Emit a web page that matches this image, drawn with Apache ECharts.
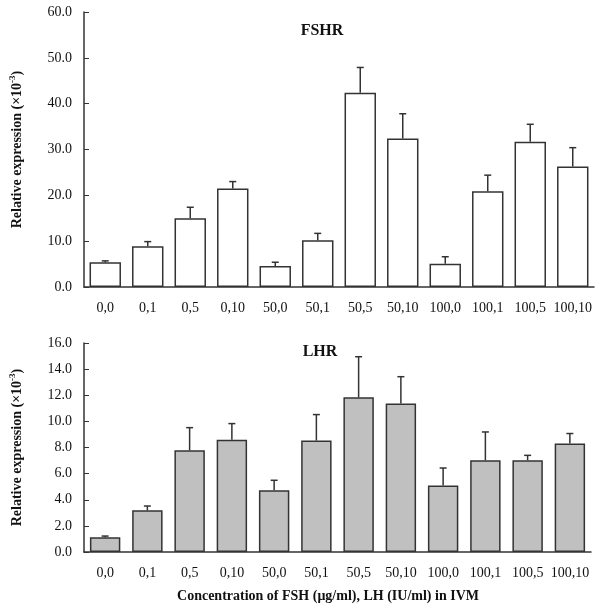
<!DOCTYPE html>
<html>
<head>
<meta charset="utf-8">
<script src="https://cdn.jsdelivr.net/npm/echarts@6/dist/echarts.min.js"></script>
<style>
  html, body { margin: 0; padding: 0; background: #fff; }
  #chart { width: 600px; height: 613px; }
</style>
</head>
<body>
<div id="chart"></div>
<script>
// 数据：FSH/LH 浓度组合
const categories = ['0,0', '0,1', '0,5', '0,10', '50,0', '50,1', '50,5', '50,10', '100,0', '100,1', '100,5', '100,10'];
const fshrMean = [5.4, 8.9, 15.0, 21.5, 4.6, 10.2, 42.4, 32.4, 5.1, 20.9, 31.7, 26.3];
const fshrSd = [0.3, 1.0, 2.4, 1.5, 0.8, 1.5, 5.5, 5.4, 1.5, 3.5, 3.8, 4.1];
const lhrMean = [1.13, 3.19, 7.79, 8.6, 4.72, 8.53, 11.84, 11.36, 5.1, 7.02, 7.02, 8.3];
const lhrSd = [0.09, 0.33, 1.73, 1.23, 0.77, 1.99, 3.11, 2.06, 1.33, 2.17, 0.38, 0.77];
const fshrTicks = { min: 0, max: 60, interval: 10 };
const lhrTicks = { min: 0, max: 16, interval: 2 };

const serif = '"Liberation Serif", "Times New Roman", serif';
const axisColor = '#333';

// 误差线（只画上半部分）
function errorItem(params, api) {
  const x = api.value(0);
  const base = api.coord([x, api.value(1)]);
  const top = api.coord([x, api.value(2)]);
  const halfCap = 3.5;
  const style = { stroke: '#333', lineWidth: 1.5 };
  return {
    type: 'group',
    children: [
      { type: 'line', shape: { x1: base[0], y1: base[1], x2: top[0], y2: top[1] }, style },
      { type: 'line', shape: { x1: top[0] - halfCap, y1: top[1], x2: top[0] + halfCap, y2: top[1] }, style },
    ],
  };
}

function yName() {
  return '{a|Relative expression (×10}{s|-3}{a|)}';
}

function xAxis(gridIndex) {
  return {
    type: 'category',
    gridIndex,
    data: categories,
    axisLine: { lineStyle: { color: axisColor, width: 1.5 } },
    axisTick: { inside: true, length: 4, lineStyle: { color: axisColor } },
    axisLabel: { color: '#111', fontFamily: serif, fontSize: 14, margin: 14, interval: 0 },
  };
}

function yAxis(gridIndex, ticks) {
  return {
    type: 'value',
    gridIndex,
    min: ticks.min,
    max: ticks.max,
    interval: ticks.interval,
    name: yName(),
    nameLocation: 'middle',
    nameGap: 58,
    nameTextStyle: {
      rich: {
        a: { fontFamily: serif, fontSize: 14, fontWeight: 'bold', color: '#111', lineHeight: 18 },
        s: { fontFamily: serif, fontSize: 9, fontWeight: 'bold', color: '#111', verticalAlign: 'top', lineHeight: 18 },
      },
    },
    axisLine: { show: true, lineStyle: { color: axisColor, width: 1.5 } },
    axisTick: { show: true, inside: true, length: 5, lineStyle: { color: axisColor } },
    axisLabel: {
      color: '#111',
      fontFamily: serif,
      fontSize: 14,
      margin: 12,
      formatter: (v) => v.toFixed(1),
    },
    splitLine: { show: false },
  };
}

const chart = echarts.init(document.getElementById('chart'));
chart.setOption({
  animation: false,
  backgroundColor: '#fff',
  title: [
    { text: 'FSHR', left: 317, top: 18, textAlign: 'center', textStyle: { fontFamily: serif, fontSize: 16, fontWeight: 'bold', color: '#111' } },
    { text: 'LHR', left: 315, top: 339, textAlign: 'center', textStyle: { fontFamily: serif, fontSize: 16, fontWeight: 'bold', color: '#111' } },
    { text: 'Concentration of FSH (μg/ml), LH (IU/ml) in IVM', left: 323, top: 584, textAlign: 'center', textStyle: { fontFamily: serif, fontSize: 14, fontWeight: 'bold', color: '#111' } },
  ],
  grid: [
    { left: 82, right: 6, top: 12, height: 275, containLabel: false },
    { left: 75, right: 9, top: 343, height: 209, containLabel: false },
  ],
  xAxis: [xAxis(0), xAxis(1)],
  yAxis: [yAxis(0, fshrTicks), yAxis(1, lhrTicks)],
  series: [
    {
      name: 'FSHR',
      type: 'bar',
      xAxisIndex: 0,
      yAxisIndex: 0,
      barWidth: '74%',
      data: fshrMean,
      itemStyle: { color: '#fff', borderColor: '#333', borderWidth: 1.5 },
    },
    {
      name: 'FSHR SD',
      type: 'custom',
      xAxisIndex: 0,
      yAxisIndex: 0,
      renderItem: errorItem,
      data: fshrMean.map((m, i) => [i, m, m + fshrSd[i]]),
      z: 3,
    },
    {
      name: 'LHR',
      type: 'bar',
      xAxisIndex: 1,
      yAxisIndex: 1,
      barWidth: '72%',
      data: lhrMean,
      itemStyle: { color: '#c0c0c0', borderColor: '#333', borderWidth: 1.5 },
    },
    {
      name: 'LHR SD',
      type: 'custom',
      xAxisIndex: 1,
      yAxisIndex: 1,
      renderItem: errorItem,
      data: lhrMean.map((m, i) => [i, m, m + lhrSd[i]]),
      z: 3,
    },
  ],
});
</script>
</body>
</html>
